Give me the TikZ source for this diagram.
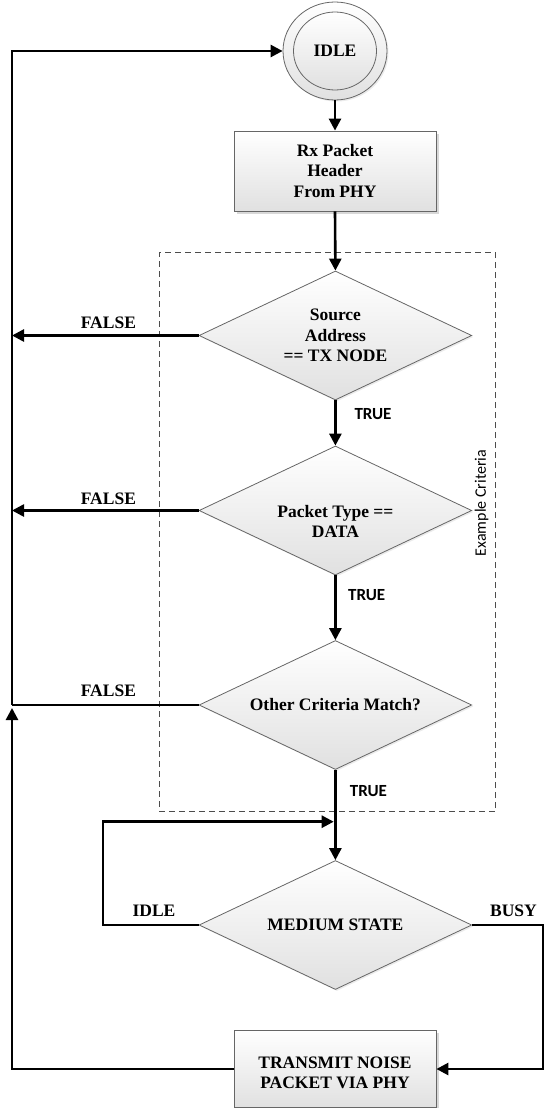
\documentclass[tikz,border=0pt]{standalone}
\usepackage{fontspec}
\setmainfont{Liberation Serif}
\newfontfamily\calib{Carlito}
\usetikzlibrary{shapes.geometric,arrows.meta,shadows}

\tikzset{
  shapefill/.style={top color=white, bottom color=black!12, draw=black!60, line width=0.8pt},
  serifbold/.style={font=\bfseries\fontsize{17.5}{20.3}\selectfont},
  boxnode/.style={shapefill, rectangle, minimum width=202pt, minimum height=80pt,
    inner sep=0pt, align=center, serifbold,
    drop shadow={shadow xshift=2.5pt, shadow yshift=-2.5pt, fill=black!30, opacity=0.5}},
  decision/.style={shapefill, diamond, aspect=2, inner sep=0pt,
    minimum width=272.7pt, minimum height=129pt, align=center, serifbold,
    drop shadow={shadow xshift=1.5pt, shadow yshift=-1.5pt, fill=black!20, opacity=0.4}},
  statering/.style={shapefill, ellipse, inner sep=0pt},
  conn/.style={line width=2.6pt, draw=black},
  arr/.style={conn, -{Triangle[length=12pt,width=12pt]}},
  seriflbl/.style={serifbold, inner sep=0pt},
  inlbl/.style={serifbold, inner sep=0pt, align=center},
  truelbl/.style={font=\calib\bfseries\fontsize{17}{20}\selectfont, inner sep=0pt},
  critbox/.style={draw=black!70, dash pattern=on 6pt off 4pt, line width=0.8pt, rectangle, inner sep=0pt},
}

\begin{document}
\begin{tikzpicture}[x=1pt,y=-1pt]
\useasboundingbox (0,0) rectangle (545,1108);

% criteria frame
\node[critbox, minimum width=336.3pt, minimum height=559pt] (crit) at (327.15,532.2) {};
\node[rotate=90, inner sep=0pt, font=\calib\fontsize{16}{18}\selectfont] (ec) at (481.7,503) {Example Criteria};

% nodes
\node[statering, minimum width=104pt, minimum height=98pt,
      drop shadow={shadow xshift=1.5pt, shadow yshift=-1.5pt, fill=black!20, opacity=0.4}] (idleout) at (335,51) {};
\node[statering, minimum width=83pt, minimum height=78pt, serifbold] (idle) at (335,51) {IDLE};
\node[boxnode] (rx) at (335,171) {Rx Packet\\Header\\From PHY};
\node[decision] (d1) at (335.4,335.5) {Source\\Address\\== TX NODE};
\node[decision] (d2) at (335.4,510.5) {};
\node[inlbl] (d2txt) at (335.4,521.7) {Packet Type ==\\DATA};
\node[decision] (d3) at (335.4,705) {Other Criteria Match?};
\node[decision] (d4) at (335.4,925) {MEDIUM STATE};
\node[boxnode, minimum height=77pt] (tx) at (335,1069) {};
\node[inlbl] (txtxt) at (335,1073) {TRANSMIT NOISE\\PACKET VIA PHY};

% helper coordinates
\coordinate (ltop) at (12,51);
\coordinate (j3) at (12,705);
\coordinate (jarr) at (12,708);
\coordinate (lbot) at (12,1069);
\coordinate (f1) at (12,335.5);
\coordinate (f2) at (12,510.5);
\coordinate (lp1) at (103,925);
\coordinate (lp2) at (103,821.7);
\coordinate (lp3) at (333.7,821.7);
\coordinate (br1) at (543,925);
\coordinate (br2) at (543,1069);

% main flow
\draw[arr] (idleout.south) -- (rx.north);
\draw[arr] (rx.south) -- (d1.north);
\draw[arr] (d1.south) -- (d2.north);
\draw[arr] (d2.south) -- (d3.north);
\draw[arr] (d3.south) -- (d4.north);

% false branches
\draw[arr] (d1.west) -- (f1);
\draw[arr] (d2.west) -- (f2);
\draw[conn] (d3.west) -- (j3);

% return path
\draw[arr] (tx.west) -- (lbot) -- (jarr);
\draw[arr] (j3) -- (ltop) -- (idleout.west);

% medium state branches
\draw[arr] (d4.west) -- (lp1) -- (lp2) -- (lp3);
\draw[arr] (d4.east) -- (br1) -- (br2) -- (tx.east);

% labels
\node[seriflbl] (fl1) at (108.4,322.3) {FALSE};
\node[seriflbl] (fl2) at (108.4,498.3) {FALSE};
\node[seriflbl] (fl3) at (108.4,690.7) {FALSE};
\node[truelbl] (tr1) at (373,414.3) {TRUE};
\node[truelbl] (tr2) at (366.7,595) {TRUE};
\node[truelbl] (tr3) at (368.4,790.7) {TRUE};
\node[seriflbl] (lidle) at (154,911) {IDLE};
\node[seriflbl] (lbusy) at (513.5,911) {BUSY};
\end{tikzpicture}
\end{document}
